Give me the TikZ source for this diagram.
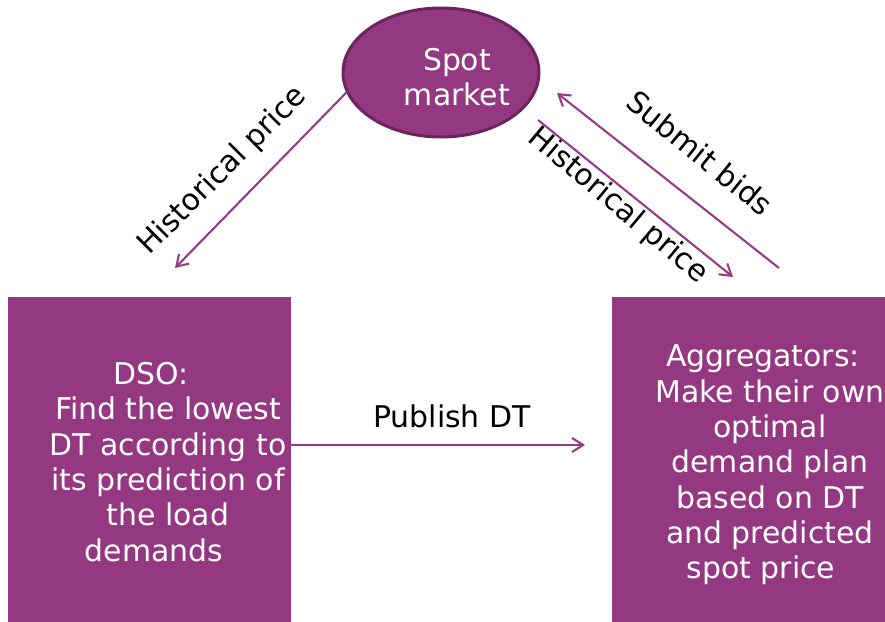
\documentclass[tikz,border=0pt]{standalone}
\usepackage{fontspec}
\setmainfont{DejaVu Sans}
\usetikzlibrary{arrows.meta,shapes.geometric}
\definecolor{boxpurple}{RGB}{148,56,130}
\definecolor{edgepurple}{RGB}{108,36,92}
\definecolor{arrowpurple}{RGB}{150,60,135}
\tikzset{
  purplebox/.style={rectangle, fill=boxpurple, draw=none, inner sep=0pt},
  boxtext/.style={text=white, align=center, inner sep=0pt, font=\fontsize{30}{35.5}\selectfont},
  flow/.style={draw=arrowpurple, line width=2.1bp, -{Straight Barb[length=11bp,width=14bp]}},
  lbl/.style={text=black, inner sep=0pt, font=\fontsize{30}{35}\selectfont},
}
\begin{document}
\begin{tikzpicture}[x=1bp,y=-1bp]
\useasboundingbox (0,0) rectangle (885,622);
% boxes
\node[purplebox, minimum width=283bp, minimum height=325bp] (dso) at (149.5,459.5) {};
\node[purplebox, minimum width=273bp, minimum height=325bp] (agg) at (748.5,459.5) {};
\node[ellipse, fill=boxpurple, draw=edgepurple, line width=3bp, minimum width=196bp, minimum height=129bp, inner sep=0pt] (spot) at (441,72.5) {};
% texts
\node[boxtext] (spottext) at (457,77) {Spot\\market};
\node[boxtext] (dsotext) at (168,462) {DSO:\hspace*{34bp}\\Find the lowest\\DT according to\\its prediction of\\the load\hspace*{28bp}\\demands\hspace*{28bp}};
\node[boxtext] (aggtext) at (770,465) {Aggregators:\hspace*{14bp}\\Make their own\\optimal\hspace*{12bp}\\demand plan\\based on DT\\and predicted\\spot price\hspace*{18bp}};
% labels
\node[lbl, rotate=45] (hpl) at (223,171) {Historical price};
\node[lbl, rotate=-40] (hpr) at (618,206) {Historical price};
\node[lbl, rotate=-39] (sb) at (700,153) {Submit bids};
\node[lbl] (pub) at (452,416) {Publish DT};
% connectors
\coordinate (hplend) at (175,268);
\draw[flow] (spot.192) -- (hplend);
\coordinate (hprs) at (538,120);
\coordinate (hpre) at (733,277);
\draw[flow] (hprs) -- (hpre);
\coordinate (sbs) at (779,268);
\coordinate (sbe) at (557,93);
\draw[flow] (sbs) -- (sbe);
\coordinate (pubend) at (585,445);
\draw[flow] (dso.east |- pubend) -- (pubend);
\end{tikzpicture}
\end{document}
